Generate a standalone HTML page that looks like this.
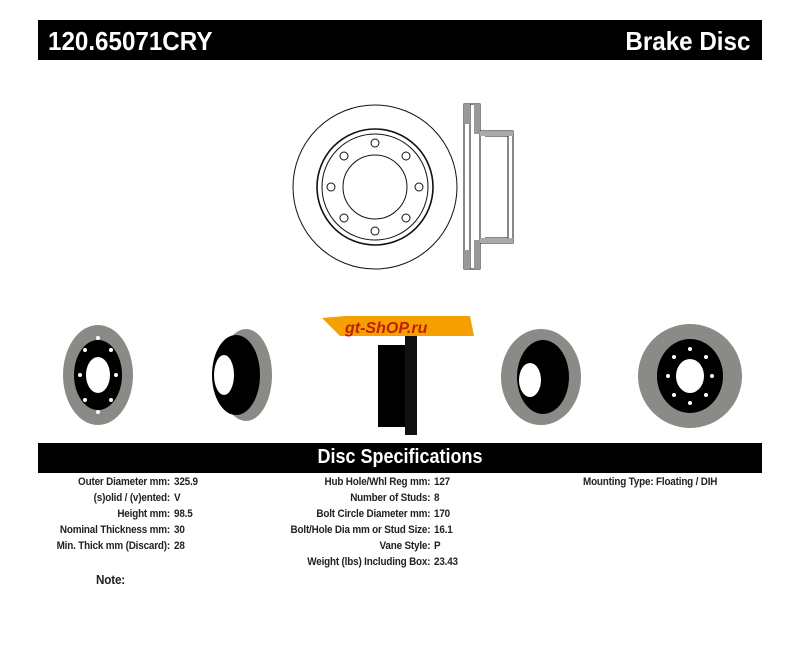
<!DOCTYPE html>
<html><head><meta charset="utf-8"><style>
body{margin:0;width:800px;height:655px;background:#fff;position:relative;overflow:hidden;font-family:"Liberation Sans",Arial,sans-serif}
.bar{position:absolute;left:38px;width:724px;background:#000;color:#fff;font-weight:bold}
.t{position:absolute;font-size:11px;font-weight:bold;color:#222;white-space:nowrap;line-height:16px;letter-spacing:-0.2px}
.r{text-align:right;transform:scaleX(0.9);transform-origin:right top}
.l{transform:scaleX(0.9);transform-origin:left top}
</style></head><body>
<div class="bar" style="top:20px;height:40px">
<span style="position:absolute;left:10px;top:6px;font-size:26px;transform:scaleX(0.93);transform-origin:left top">120.65071CRY</span>
<span style="position:absolute;right:12px;top:6px;font-size:26px;transform:scaleX(0.93);transform-origin:right top">Brake Disc</span>
</div>
<svg width="800" height="440" style="position:absolute;left:0;top:0" fill="none" stroke="#111">
<circle cx="375" cy="187" r="82" stroke-width="1"/>
<circle cx="375" cy="187" r="58" stroke-width="1.6"/>
<circle cx="375" cy="187" r="53" stroke-width="1"/>
<circle cx="375" cy="187" r="32" stroke-width="1"/>
<g stroke-width="1">
<circle cx="375" cy="143" r="4"/><circle cx="375" cy="231" r="4"/>
<circle cx="331" cy="187" r="4"/><circle cx="419" cy="187" r="4"/>
<circle cx="344" cy="156" r="4"/><circle cx="406" cy="156" r="4"/>
<circle cx="344" cy="218" r="4"/><circle cx="406" cy="218" r="4"/>
</g>
<g stroke-width="1">
<rect x="464" y="104" width="16" height="165"/>
<line x1="470" y1="104" x2="470" y2="269"/>
<path d="M480 131 L513 131 L513 243 L480 243"/>
<path d="M485 136 L508 136 L508 238 L485 238"/>
<rect x="464" y="104" width="6" height="20" fill="#999" stroke="none"/>
<rect x="474" y="104" width="6" height="30" fill="#999" stroke="none"/>
<rect x="464" y="250" width="6" height="19" fill="#999" stroke="none"/>
<rect x="474" y="240" width="6" height="29" fill="#999" stroke="none"/>
<rect x="480" y="131" width="33" height="5" fill="#aaa" stroke="none"/>
<rect x="480" y="238" width="33" height="5" fill="#aaa" stroke="none"/>
</g>
<g stroke="none">
<ellipse cx="98" cy="375" rx="35" ry="50" fill="#8a8a86"/>
<ellipse cx="98" cy="375" rx="24" ry="35" fill="#000"/>
<ellipse cx="98" cy="375" rx="12" ry="18" fill="#fff"/>
<ellipse cx="246" cy="375" rx="26" ry="46" fill="#8a8a86"/>
<ellipse cx="236" cy="375" rx="24" ry="40" fill="#000"/>
<ellipse cx="224" cy="375" rx="10" ry="20" fill="#fff"/>
<rect x="378" y="345" width="32" height="82" fill="#000"/>
<rect x="405" y="330" width="12" height="105" fill="#111"/>
<ellipse cx="541" cy="377" rx="40" ry="48" fill="#8a8a86"/>
<ellipse cx="543" cy="377" rx="26" ry="37" fill="#000"/>
<ellipse cx="530" cy="380" rx="11" ry="17" fill="#fff"/>
<ellipse cx="690" cy="376" rx="52" ry="52" fill="#8a8a86"/>
<ellipse cx="690" cy="376" rx="33" ry="37" fill="#000"/>
<ellipse cx="690" cy="376" rx="14" ry="17" fill="#fff"/>
</g>
<g fill="#fff" stroke="none">
<circle cx="98" cy="338" r="2"/><circle cx="98" cy="412" r="2"/><circle cx="80" cy="375" r="2"/><circle cx="116" cy="375" r="2"/>
<circle cx="85" cy="350" r="2"/><circle cx="111" cy="350" r="2"/><circle cx="85" cy="400" r="2"/><circle cx="111" cy="400" r="2"/>
<circle cx="690" cy="349" r="2"/><circle cx="690" cy="403" r="2"/><circle cx="668" cy="376" r="2"/><circle cx="712" cy="376" r="2"/>
<circle cx="674" cy="357" r="2"/><circle cx="706" cy="357" r="2"/><circle cx="674" cy="395" r="2"/><circle cx="706" cy="395" r="2"/>
</g>
<polygon points="322,318 345,316 470,316 474,336 340,336 330,326" fill="#f5a000" stroke="none"/>
<text x="345" y="333" font-family="Liberation Sans" font-weight="bold" font-style="italic" font-size="16" fill="#c02000" stroke="none">gt-ShOP.ru</text>
</svg>
<div class="bar" style="top:443px;height:30px">
<div style="position:absolute;left:0;right:0;top:3px;text-align:center;font-size:20px;transform:scaleX(0.9)">Disc Specifications</div>
</div>
<div class="t r" style="right:630px;top:474px">Outer Diameter mm:<br>(s)olid / (v)ented:<br>Height mm:<br>Nominal Thickness mm:<br>Min. Thick mm (Discard):</div>
<div class="t l" style="left:174px;top:474px">325.9<br>V<br>98.5<br>30<br>28</div>
<div class="t r" style="right:370px;top:474px">Hub Hole/Whl Reg mm:<br>Number of Studs:<br>Bolt Circle Diameter mm:<br>Bolt/Hole Dia mm or Stud Size:<br>Vane Style:<br>Weight (lbs) Including Box:</div>
<div class="t l" style="left:434px;top:474px">127<br>8<br>170<br>16.1<br>P<br>23.43</div>
<div class="t l" style="left:583px;top:474px">Mounting Type: Floating / DIH</div>
<div class="t l" style="left:96px;top:572px;font-size:13px">Note:</div>
</body></html>
